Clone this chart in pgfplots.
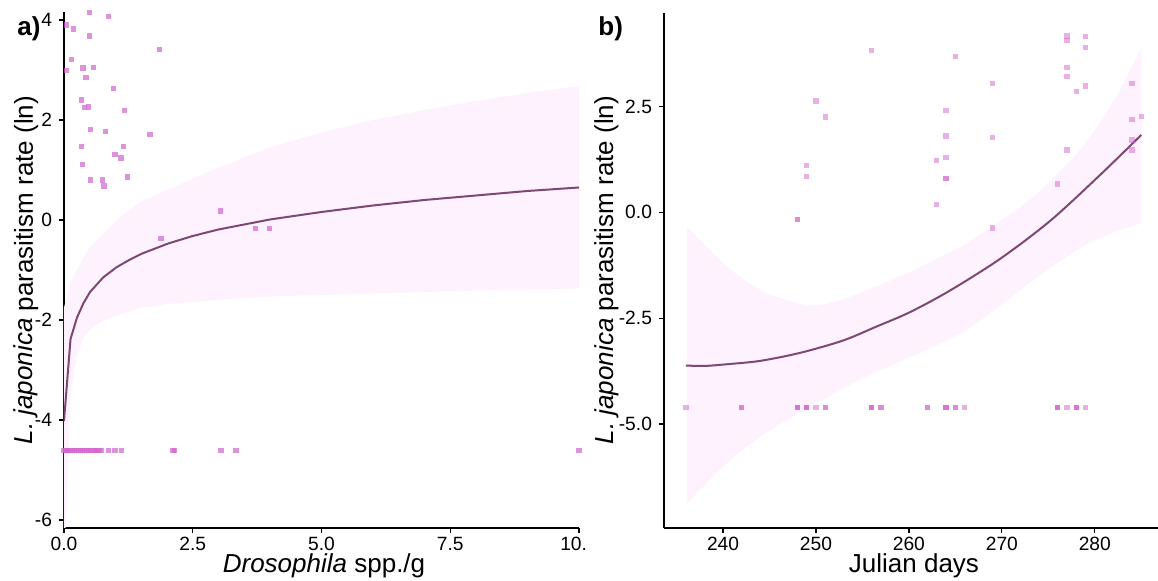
\documentclass[border=0pt]{standalone}
\usepackage{fontspec}
\setmainfont{Liberation Sans}
\usepackage{pgfplots}
\pgfplotsset{compat=1.18}
\usepgfplotslibrary{fillbetween}

\definecolor{ptcol}{RGB}{210,100,205}
\definecolor{linecol}{RGB}{125,72,115}
\definecolor{bandcol}{RGB}{253,242,253}

\pgfplotsset{
  panel/.style={
    scale only axis,
    anchor=south west,
    axis lines=left,
    axis line style={-, line width=0.6pt, black},
    tick style={line width=0.6pt, black},
    tick align=outside,
    major tick length=2.5pt,
    ticklabel style={font=\fontsize{9.6}{11}\selectfont, text=black},
    xticklabel style={yshift=1.5pt},
  },
  pts/.style={only marks, color=ptcol, mark=square*, mark size=1.35pt,
    mark options={draw opacity=0, fill=ptcol, fill opacity=#1}},
}

\begin{document}
\begin{tikzpicture}

% a) parasitism vs Drosophila density
\begin{axis}[panel, at={(0pt,0pt)}, width=257.5pt, height=258pt,
    xmin=0, xmax=10, ymin=-6.16, ymax=4.16,
    xtick={0,2.5,5,7.5,10}, xticklabels={0.0,2.5,5.0,7.5,10.\phantom{0}},
    ytick={-6,-4,-2,0,2,4}, yticklabels={-6,-4,-2,0,2,4}]
\addplot[name path=ua, draw=none] coordinates {
(0,-1.75) (0.127,-1.25) (0.253,-0.98) (0.38,-0.75) (0.5,-0.55) (0.75,-0.3)
(1,-0.02) (1.5,0.37) (2,0.6) (3,1.05) (4,1.45) (5,1.75) (6,2.0) (7,2.2)
(8,2.38) (9,2.54) (10,2.68)};
\addplot[name path=la, draw=none] coordinates {
(0,-7) (0.127,-3.5) (0.253,-2.7) (0.38,-2.35) (0.5,-2.2) (0.75,-2.02)
(1,-1.92) (1.5,-1.75) (2,-1.68) (3,-1.6) (4,-1.53) (5,-1.5) (6,-1.47)
(7,-1.44) (8,-1.41) (9,-1.39) (10,-1.37)};
\addplot[bandcol] fill between[of=ua and la];

\addplot[pts=0.7] coordinates {
(0.50,4.15) (0.76,4.17) (0.86,4.07) (0.05,3.90) (0.19,3.82) (0.50,3.68)
(1.86,3.41) (0.15,3.21) (0.05,2.99) (0.37,3.04) (0.57,3.05) (0.43,2.85)
(0.96,2.63) (0.34,2.40) (0.40,2.25) (0.47,2.26) (1.17,2.19) (0.51,1.81)
(0.81,1.77) (1.67,1.71) (0.34,1.47) (1.16,1.47) (0.99,1.31) (1.11,1.24)
(0.36,1.11) (1.23,0.86) (0.52,0.80) (0.75,0.80) (0.78,0.68) (1.88,-0.37)
(3.04,0.18) (3.72,-0.17) (3.99,-0.17)
(0.00,-4.61) (0.03,-4.61) (0.06,-4.61) (0.09,-4.61) (0.12,-4.61) (0.16,-4.61)
(0.20,-4.61) (0.24,-4.61) (0.28,-4.61) (0.32,-4.61) (0.36,-4.61) (0.40,-4.61)
(0.44,-4.61) (0.48,-4.61) (0.52,-4.61) (0.56,-4.61) (0.60,-4.61) (0.64,-4.61)
(0.68,-4.61) (0.73,-4.61) (0.86,-4.61) (0.99,-4.61) (1.12,-4.61) (2.12,-4.61)
(2.15,-4.61) (3.05,-4.61) (3.34,-4.61) (10.0,-4.61)};

\addplot[linecol, line width=1pt, mark=none] coordinates {
(0,-4.02) (0.127,-2.38) (0.253,-1.95) (0.38,-1.66) (0.506,-1.44) (0.76,-1.15)
(1.013,-0.95) (1.266,-0.80) (1.519,-0.67) (2.025,-0.47) (2.5,-0.32) (3,-0.19)
(4,0.01) (5,0.16) (6,0.29) (7,0.40) (8,0.49) (9,0.58) (10,0.65)};
\end{axis}

% b) parasitism vs Julian day
\begin{axis}[panel, at={(300pt,0pt)}, width=247pt, height=257.65pt,
    xmin=233.65, xmax=286.8, ymin=-7.46, ymax=4.72,
    xtick={240,250,260,270,280}, xticklabels={240,250,260,270,280},
    ytick={-5,-2.5,0,2.5}, yticklabels={-5.0,-2.5,0.0,2.5}]
\addplot[name path=ub, draw=none, smooth] coordinates {
(236.1,-0.34) (240.4,-1.28) (244,-1.83) (246.5,-2.05) (249.4,-2.2) (252,-2.12)
(254.7,-1.91) (259,-1.52) (262.5,-1.15) (266.2,-0.73) (273.4,0.37)
(278.7,1.56) (282.3,2.74) (285,3.88)};
\addplot[name path=lb, draw=none, smooth] coordinates {
(236.1,-6.88) (240.4,-5.93) (244,-5.30) (249.4,-4.59) (254.7,-3.96)
(259,-3.53) (266.2,-2.78) (273.4,-1.60) (278.7,-0.81) (282.3,-0.45) (285,-0.26)};
\addplot[bandcol] fill between[of=ub and lb];

\addplot[pts=0.5] coordinates {
(256,3.83) (265,3.68) (269,3.04) (264,2.41) (264,1.81) (263,1.23) (264,1.30)
(264,0.80) (264,0.80) (263,0.18) (269,1.77) (269,-0.37) (277,4.17) (277,4.06)
(279,4.16) (279,3.90) (277,3.42) (277,3.21) (278,2.86) (279,2.99) (284,3.05)
(284,2.19) (285,2.26) (284,1.71) (284,1.47) (277,1.47) (276,0.67) (250,2.63)
(251,2.25) (249,1.11) (249,0.85) (248,-0.17) (248,-0.17)
(236,-4.61) (242,-4.61) (242,-4.61) (248,-4.61) (248,-4.61) (248,-4.61)
(249,-4.61) (249,-4.61) (249,-4.61) (250,-4.61) (251,-4.61) (251,-4.61)
(256,-4.61) (256,-4.61) (256,-4.61) (257,-4.61) (257,-4.61) (262,-4.61)
(262,-4.61) (264,-4.61) (264,-4.61) (264,-4.61) (265,-4.61) (265,-4.61)
(266,-4.61) (276,-4.61) (276,-4.61) (276,-4.61) (277,-4.61) (278,-4.61)
(278,-4.61) (278,-4.61) (279,-4.61)};

\addplot[linecol, line width=1pt, mark=none, smooth] coordinates {
(236,-3.62) (238,-3.63) (240.4,-3.59) (244,-3.51) (248.3,-3.32) (252.9,-3.03)
(256.5,-2.70) (260.1,-2.36) (264.4,-1.85) (269.8,-1.10) (275.2,-0.20)
(280.5,0.87) (285,1.83)};
\end{axis}

\tikzset{lab/.style={font=\fontsize{13}{15}\selectfont, inner sep=0pt}}
\node[lab, anchor=base] at (130pt,-22.5pt) {\textit{Drosophila} spp./g};
\node[lab, anchor=base] at (425pt,-22.5pt) {Julian days};
\node[lab, rotate=90, anchor=base] at (-15.5pt,129pt)
  {\textit{L. japonica} parasitism rate (ln)};
\node[lab, rotate=90, anchor=base] at (274.5pt,129pt)
  {\textit{L. japonica} parasitism rate (ln)};
\node[lab, font=\bfseries\fontsize{13}{15}\selectfont, anchor=base west] at (-23.5pt,246pt) {a)};
\node[lab, font=\bfseries\fontsize{13}{15}\selectfont, anchor=base west] at (267pt,246pt) {b)};

\pgfresetboundingbox
\useasboundingbox (-32pt,-26.5pt) rectangle (547pt,264pt);
\end{tikzpicture}
\end{document}
